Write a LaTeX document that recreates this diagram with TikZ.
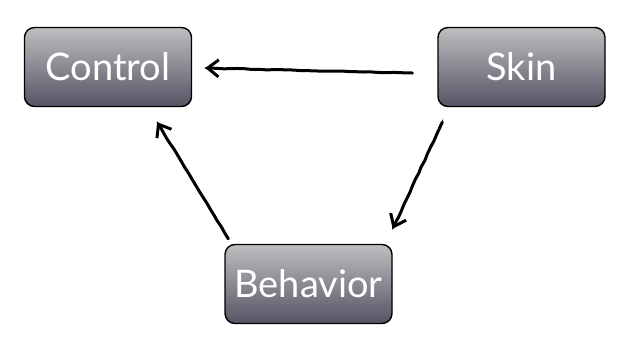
\documentclass[tikz,border=0pt]{standalone}
\usepackage{fontspec}
\setmainfont{Lato}
\usetikzlibrary{arrows.meta,decorations.pathmorphing}
\definecolor{boxtop}{RGB}{190,190,192}
\definecolor{boxbottom}{RGB}{84,84,100}
\tikzset{
  box/.style={draw=black,line width=1.4pt,rounded corners=10pt,
    top color=boxtop,bottom color=boxbottom,
    minimum width=167pt,minimum height=79pt,inner sep=0pt,
    text=white,font=\fontsize{38}{42}\selectfont},
  sketch/.style={draw=black,line width=3pt,line cap=round,
    -{Straight Barb[length=11pt,width=17pt,line width=3pt]},
    decorate,decoration={random steps,segment length=7pt,amplitude=0.35pt,post length=9pt},
    postaction={draw,line width=1.4pt,decorate,-}}
}
\begin{document}
\begin{tikzpicture}[x=1pt,y=-1pt]
\pgfmathsetseed{7}
\useasboundingbox (0,0) rectangle (634,354);
% boxes:
\node[box] (control) at (108,67) {Control};
\node[box] (skin) at (521.5,67) {Skin};
\node[box] (behavior) at (308.5,284) {Behavior};
% arrows:
\draw[sketch] ([shift={(-25,6)}]skin.west) -- ([shift={(13,1)}]control.east);
\draw[sketch] ([shift={(5,15)}]skin.south west) -- ([shift={(0,-15)}]behavior.north east);
\draw[sketch] ([shift={(4,-5)}]behavior.north west) -- ([shift={(-35,15)}]control.south east);
\end{tikzpicture}
\end{document}
